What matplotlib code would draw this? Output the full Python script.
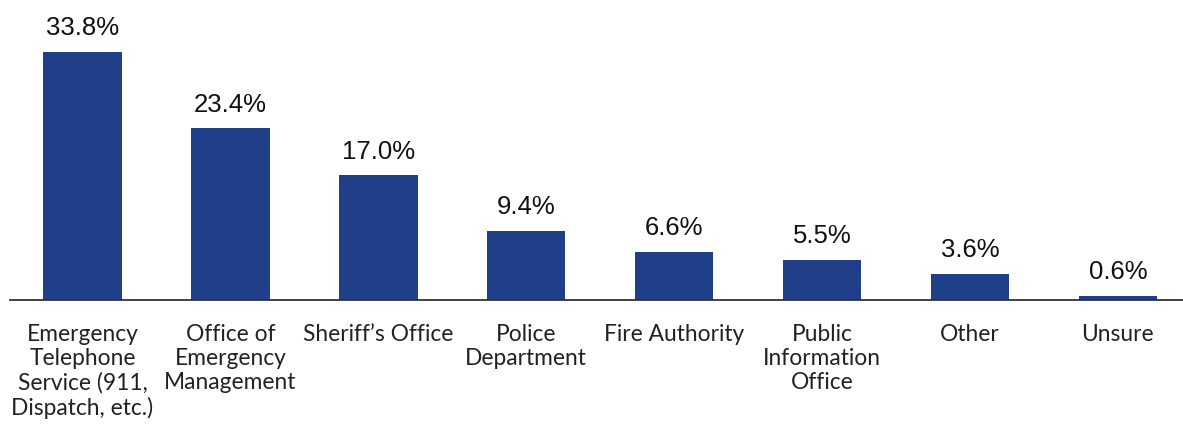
import matplotlib.pyplot as plt

categories = [
    "Emergency\nTelephone\nService (911,\nDispatch, etc.)",
    "Office of\nEmergency\nManagement",
    "Sheriff\u2019s Office",
    "Police\nDepartment",
    "Fire Authority",
    "Public\nInformation\nOffice",
    "Other",
    "Unsure",
]
shares = [33.8, 23.4, 17.0, 9.4, 6.6, 5.5, 3.6, 0.6]

fig = plt.figure(figsize=(11.83, 4.33), dpi=100)
ax = fig.add_axes([10 / 1183, 133 / 433, 1173 / 1183, 300 / 433])

x = list(range(len(shares)))
bars = ax.bar(x, shares, width=0.53, color="#1f3f88")

for b, v in zip(bars, shares):
    ax.text(b.get_x() + b.get_width() / 2, v + 1.6, f"{v:.1f}%",
            ha="center", va="bottom", fontsize=18.5,
            family="Liberation Sans", color="#111111")

ax.set_xlim(-0.49, 7.44)
ax.set_ylim(0, 40.9)
ax.set_xticks(x)
ax.set_xticklabels(categories, fontsize=16.4, family="Lato", color="#222222",
                   linespacing=1.17)
ax.tick_params(axis="x", length=0, pad=17.5)
ax.set_yticks([])

for side in ["top", "right", "left"]:
    ax.spines[side].set_visible(False)
ax.spines["bottom"].set_color("#333333")
ax.spines["bottom"].set_linewidth(1.3)

fig.savefig("out.png", dpi=100)
